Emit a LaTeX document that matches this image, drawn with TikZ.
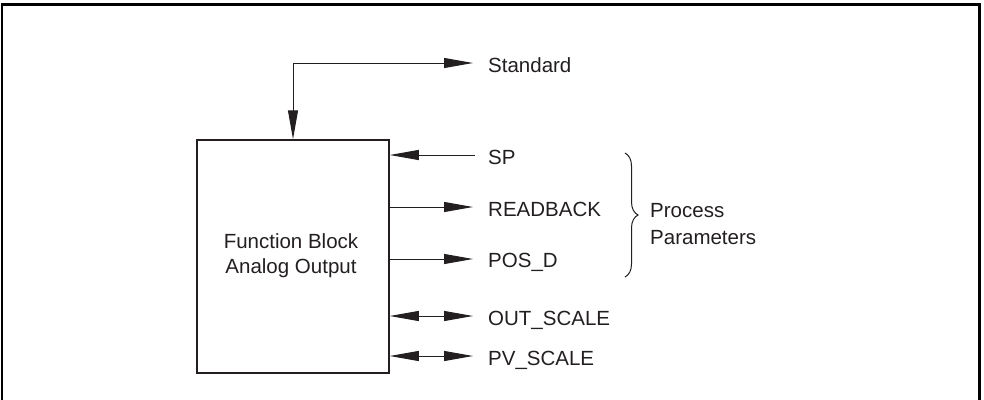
\documentclass[tikz,border=0pt]{standalone}
\usepackage{fontspec}
\setmainfont{Liberation Sans}
\usetikzlibrary{arrows.meta,decorations.pathreplacing}
\definecolor{ink}{HTML}{231F20}
\begin{document}
\begin{tikzpicture}[x=1pt,y=-1pt,
  conn/.style={draw=ink,line width=1pt,-{Triangle[length=29pt,width=10pt]}},
  bidir/.style={draw=ink,line width=1pt,{Triangle[length=29pt,width=10pt]}-{Triangle[length=29pt,width=10pt]}},
  lbl/.style={inner sep=0pt,anchor=base west,font=\fontsize{20.5}{24}\selectfont,text=ink},
  fb/.style={draw=ink,line width=1.5pt,minimum width=192pt,minimum height=233pt,inner sep=0pt}]
\useasboundingbox (0,0) rectangle (984,399);
\draw[line width=2.5pt,black] (2,400) -- (2,4.5) -- (979.5,4.5) -- (979.5,400);
% main block
\node[fb] (blk) at (293,256.5) {};
\node[inner sep=0pt,align=center,font=\fontsize{20.5}{25}\selectfont,text=ink,anchor=base] (blktxt) at (291,273) {Function Block\\Analog Output};
% labels
\node[lbl] (std) at (488,72) {Standard};
\node[lbl] (sp) at (488,164) {SP};
\node[lbl] (rb) at (488,216) {READBACK};
\node[lbl] (pos) at (488,267) {POS\_D};
\node[lbl] (out) at (488,325) {OUT\_SCALE};
\node[lbl] (pv) at (488,365) {PV\_SCALE};
\node[lbl,align=left,font=\fontsize{20.5}{27}\selectfont] (pp) at (650,244) {Process\\Parameters};
% coordinates
\coordinate (corner) at (293,63);
\coordinate (stdend) at (473,63);
\coordinate (spS) at (475,155);
\coordinate (spE) at (blk.east |- spS);
\coordinate (rbS) at (blk.east |- 0,207);
\coordinate (rbE) at (473,207);
\coordinate (posS) at (blk.east |- 0,259);
\coordinate (posE) at (473,259);
\coordinate (outS) at (blk.east |- 0,316);
\coordinate (outE) at (473,316);
\coordinate (pvS) at (blk.east |- 0,356);
\coordinate (pvE) at (473,356);
\coordinate (brT) at (625,153);
\coordinate (brB) at (625,277);
% connectors
\draw[conn] (corner) -- (stdend);
\draw[conn] (corner) -- (blk.north);
\draw[conn] (spS) -- (spE);
\draw[conn] (rbS) -- (rbE);
\draw[conn] (posS) -- (posE);
\draw[bidir] (outS) -- (outE);
\draw[bidir] (pvS) -- (pvE);
\draw[ink,line width=1pt,decorate,decoration={brace,amplitude=13pt}] (brT) -- (brB);
\end{tikzpicture}
\end{document}
